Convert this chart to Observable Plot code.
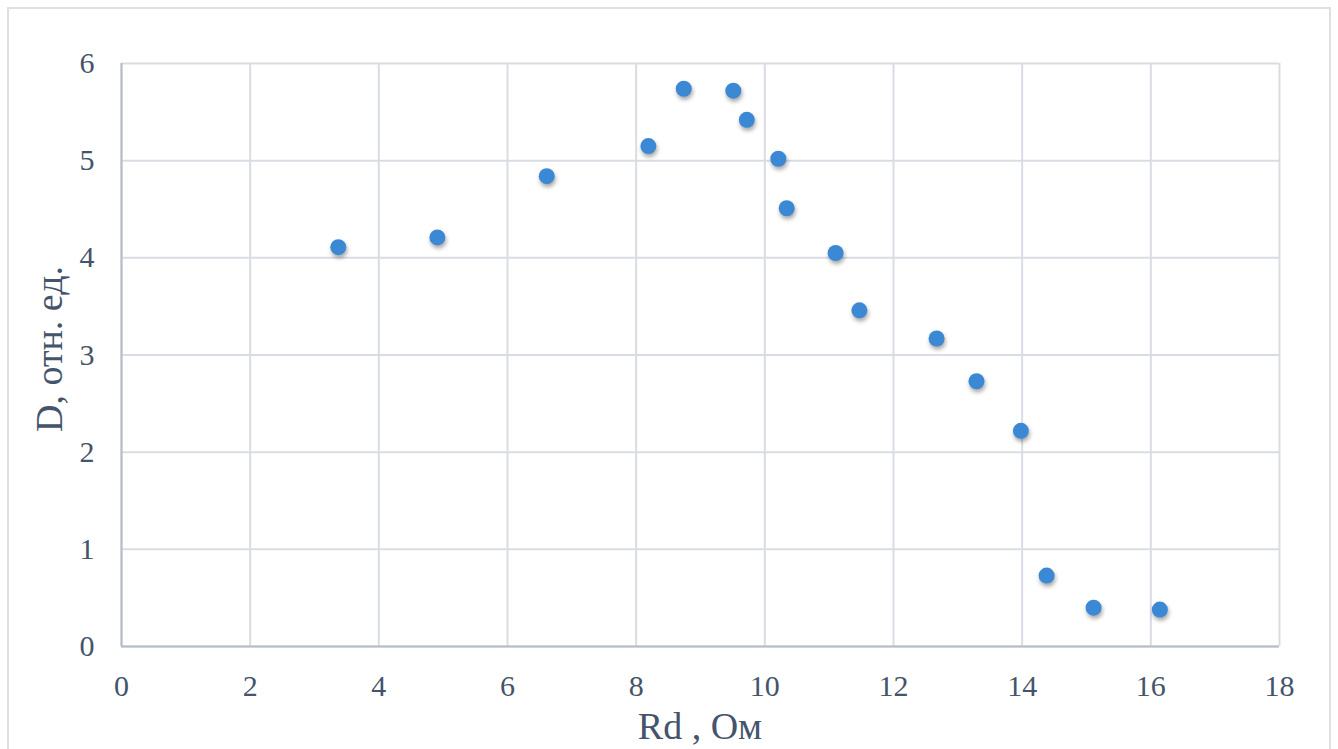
<!DOCTYPE html>
<html><head><meta charset="utf-8">
<script src="https://cdn.jsdelivr.net/npm/d3@7"></script>
<script src="https://cdn.jsdelivr.net/npm/@observablehq/plot@0.6"></script>
<style>
body{margin:0;background:#fff;overflow:hidden}
#wrap{position:relative;width:1338px;height:749px}
#border{position:absolute;left:7px;top:7px;width:1324px;height:760px;border:2px solid #dde1e7;box-sizing:border-box}
#chart{position:absolute;left:0;top:0}
svg text{font-family:'Liberation Serif','Times New Roman',serif !important}
</style></head>
<body><div id="wrap"><div id="border"></div><div id="chart"></div></div>
<script>
const rd = [3.37, 4.91, 6.61, 8.19, 8.74, 9.51, 9.72, 10.21, 10.34, 11.10, 11.47, 12.67, 13.29, 13.98, 14.38, 15.11, 16.14];
const dVals = [4.11, 4.21, 4.84, 5.15, 5.74, 5.72, 5.42, 5.02, 4.51, 4.05, 3.46, 3.17, 2.73, 2.22, 0.73, 0.40, 0.38];
const xTicks = [0, 2, 4, 6, 8, 10, 12, 14, 16, 18];
const yTicks = [0, 1, 2, 3, 4, 5, 6];
const xLabel = "Rd , Ом";
const yLabel = "D, отн. ед.";

const data = rd.map((x, i) => ({x, y: dVals[i]}));
const textColor = "#44546a";
const gridColor = "#d9dde3";
const axisColor = "#b3bcc8";
const serif = "'Liberation Serif', 'Times New Roman', serif";

const W = 1338, H = 749, mL = 121, mT = 63, mR = 59, mB = 103;
const svg = Plot.plot({
  width: W, height: H,
  marginLeft: mL, marginTop: mT, marginRight: mR, marginBottom: mB,
  style: {fontFamily: serif, fontSize: "30px", color: textColor, background: "transparent"},
  x: {domain: [0, 18], ticks: xTicks, label: null},
  y: {domain: [0, 6], ticks: yTicks, label: null},
  marks: [
    Plot.gridX(xTicks, {stroke: gridColor, strokeOpacity: 1, strokeWidth: 2}),
    Plot.gridY(yTicks, {stroke: gridColor, strokeOpacity: 1, strokeWidth: 2}),
    Plot.ruleX([0], {stroke: axisColor, strokeWidth: 2}),
    Plot.ruleY([0], {stroke: axisColor, strokeWidth: 2}),
    Plot.axisX(xTicks, {tickSize: 0, tickPadding: 28, fill: textColor, fontSize: 30, fontFamily: serif, tickFormat: d3.format("d"), label: null}),
    Plot.axisY(yTicks, {tickSize: 0, tickPadding: 27, fill: textColor, fontSize: 30, fontFamily: serif, tickFormat: d3.format("d"), label: null}),
    Plot.dot(data, {x: "x", y: "y", r: 8, fill: "#3b89d4", stroke: "none"})
  ]
});
d3.select(svg).selectAll("circle").style("filter", "drop-shadow(1px 3px 2px rgba(0,0,0,0.35))");
const s = d3.select(svg);
s.append("text").attr("x", mL + (W - mL - mR) / 2).attr("y", 739)
  .attr("text-anchor", "middle").attr("fill", textColor).attr("font-size", 38).text(xLabel);
s.append("text").attr("transform", `translate(62,349) rotate(-90)`)
  .attr("text-anchor", "middle").attr("fill", textColor).attr("font-size", 38).text(yLabel);
document.getElementById("chart").appendChild(svg);
</script></body></html>
